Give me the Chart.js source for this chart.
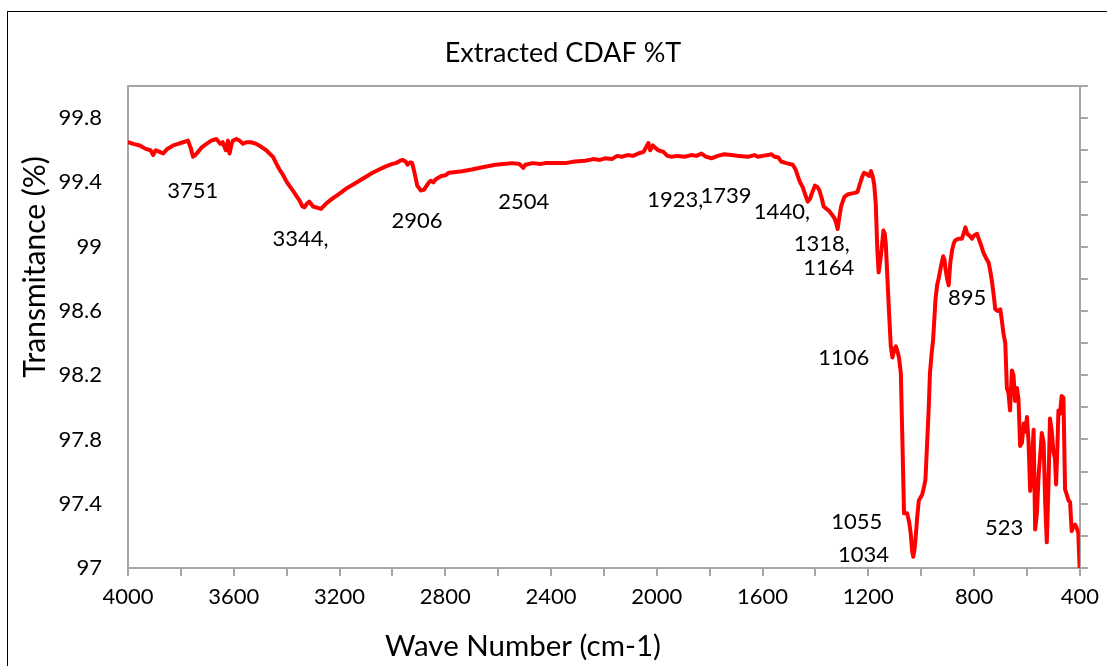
<!DOCTYPE html>
<html>
<head>
<meta charset="utf-8">
<script src="https://cdn.jsdelivr.net/npm/chart.js@4/dist/chart.umd.min.js"></script>
<style>
html, body { margin: 0; padding: 0; background: #fff; }
canvas { display: block; }
</style>
</head>
<body>
<canvas id="graphique" width="1107" height="666"></canvas>
<script>
/********************/
/* Données du graphe */
/********************/
//Nombres d'onde (cm-1)
var nombresOnde = [
    4000, 3980, 3955, 3935, 3915, 3905, 3895, 3880, 3867, 3850, 3829, 3810, 3792, 3773, 3762, 3754, 3745, 3735, 3720, 3703,
    3685, 3666, 3650, 3642, 3630, 3622, 3616, 3608, 3603, 3590, 3578, 3565, 3553, 3535, 3515, 3495, 3477, 3465, 3452, 3440,
    3427, 3415, 3402, 3390, 3377, 3365, 3352, 3340, 3333, 3322, 3314, 3300, 3289, 3270, 3250, 3226, 3200, 3176, 3150, 3125,
    3100, 3075, 3050, 3025, 3000, 2987, 2970, 2962, 2950, 2943, 2932, 2925, 2915, 2906, 2893, 2880, 2874, 2862, 2855, 2845,
    2836, 2815, 2799, 2786, 2760, 2736, 2700, 2673, 2640, 2610, 2580, 2548, 2520, 2505, 2497, 2470, 2440, 2422, 2390, 2346,
    2310, 2271, 2240, 2215, 2196, 2170, 2150, 2133, 2110, 2090, 2070, 2050, 2040, 2032, 2025, 2015, 1995, 1975, 1960, 1944,
    1920, 1894, 1870, 1850, 1831, 1815, 1793, 1770, 1745, 1718, 1690, 1655, 1630, 1618, 1600, 1580, 1567, 1555, 1540, 1530,
    1510, 1486, 1475, 1467, 1458, 1448, 1438, 1429, 1420, 1414, 1402, 1392, 1385, 1376, 1369, 1358, 1347, 1338, 1329, 1322,
    1316, 1310, 1303, 1295, 1290, 1278, 1266, 1252, 1241, 1232, 1222, 1216, 1205, 1197, 1190, 1184, 1178, 1172, 1166, 1161,
    1156, 1150, 1143, 1138, 1134, 1128, 1122, 1115, 1109, 1102, 1096, 1090, 1084, 1077, 1072, 1065, 1053, 1045, 1040, 1034,
    1030, 1025, 1021, 1015, 1009, 1002, 996, 990, 984, 977, 972, 967, 961, 955, 946, 940, 933, 925, 917, 912,
    908, 902, 896, 890, 883, 877, 871, 858, 846, 838, 833, 826, 818, 808, 800, 789, 776, 764, 755, 745,
    739, 733, 726, 720, 710, 701, 695, 689, 682, 676, 670, 664, 657, 651, 645, 638, 632, 626, 619, 612,
    606, 600, 594, 588, 582, 575, 569, 562, 556, 550, 544, 537, 531, 525, 519, 513, 506, 500, 494, 490,
    485, 481, 475, 469, 462, 456, 450, 443, 437, 431, 424, 418, 412, 406, 402, 400
];
//Transmittance (%)
var transmittance = [
    99.65, 99.64, 99.63, 99.61, 99.60, 99.57, 99.60, 99.59, 99.58, 99.61, 99.63, 99.64, 99.65, 99.66, 99.61, 99.56, 99.57, 99.59, 99.62, 99.64,
    99.66, 99.67, 99.64, 99.65, 99.60, 99.66, 99.58, 99.64, 99.66, 99.67, 99.66, 99.64, 99.65, 99.65, 99.64, 99.62, 99.60, 99.58, 99.56, 99.52,
    99.48, 99.45, 99.41, 99.38, 99.35, 99.32, 99.29, 99.25, 99.245, 99.27, 99.28, 99.25, 99.245, 99.235, 99.27, 99.30, 99.33, 99.36, 99.385, 99.41,
    99.435, 99.46, 99.48, 99.50, 99.515, 99.52, 99.535, 99.54, 99.53, 99.51, 99.525, 99.52, 99.45, 99.38, 99.35, 99.355, 99.37, 99.40, 99.41, 99.40,
    99.42, 99.44, 99.445, 99.46, 99.465, 99.47, 99.48, 99.49, 99.50, 99.51, 99.515, 99.52, 99.515, 99.49, 99.51, 99.52, 99.515, 99.52, 99.52, 99.52,
    99.53, 99.535, 99.545, 99.54, 99.55, 99.545, 99.565, 99.56, 99.57, 99.565, 99.58, 99.59, 99.62, 99.645, 99.60, 99.63, 99.60, 99.59, 99.565, 99.56,
    99.565, 99.56, 99.57, 99.565, 99.58, 99.56, 99.55, 99.565, 99.575, 99.57, 99.565, 99.56, 99.57, 99.56, 99.565, 99.57, 99.575, 99.56, 99.555, 99.53,
    99.52, 99.51, 99.48, 99.44, 99.40, 99.37, 99.32, 99.28, 99.30, 99.33, 99.38, 99.37, 99.35, 99.30, 99.25, 99.235, 99.22, 99.20, 99.18, 99.15,
    99.11, 99.18, 99.25, 99.29, 99.31, 99.325, 99.33, 99.335, 99.34, 99.39, 99.44, 99.46, 99.45, 99.44, 99.47, 99.44, 99.39, 99.27, 98.98, 98.84,
    98.90, 98.98, 99.10, 99.08, 99.02, 98.81, 98.60, 98.38, 98.31, 98.36, 98.38, 98.35, 98.31, 98.21, 97.85, 97.34, 97.34, 97.28, 97.22, 97.10,
    97.07, 97.12, 97.19, 97.32, 97.42, 97.44, 97.46, 97.50, 97.55, 97.80, 97.98, 98.21, 98.33, 98.42, 98.67, 98.76, 98.81, 98.88, 98.94, 98.92,
    98.86, 98.80, 98.76, 98.90, 98.98, 99.02, 99.04, 99.05, 99.05, 99.09, 99.12, 99.08, 99.07, 99.05, 99.07, 99.08, 99.02, 98.96, 98.93, 98.90,
    98.85, 98.79, 98.70, 98.61, 98.60, 98.61, 98.54, 98.46, 98.40, 98.12, 98.09, 97.98, 98.23, 98.20, 98.04, 98.12, 98.05, 97.76, 97.78, 97.90,
    97.85, 97.94, 97.78, 97.48, 97.62, 97.86, 97.24, 97.35, 97.58, 97.70, 97.84, 97.78, 97.40, 97.16, 97.50, 97.93, 97.85, 97.72, 97.68, 97.52,
    97.75, 97.98, 97.96, 98.07, 98.06, 97.49, 97.46, 97.42, 97.41, 97.23, 97.26, 97.27, 97.25, 97.22, 97.05, 96.95
];

//Etiquettes des axes
var etiquettesX = [4000, 3600, 3200, 2800, 2400, 2000, 1600, 1200, 800, 400];
var etiquettesY = [97, 97.4, 97.8, 98.2, 98.6, 99, 99.4, 99.8];

//Etiquettes des pics (texte, position en unités des axes)
var picsTexte = ['3751', '3344,', '2906', '2504', '1923,', '1739', '1440,', '1318,', '1164', '895', '1106', '1055', '1034', '523'];
var picsX = [3755, 3348, 2907, 2503, 1930, 1738, 1527, 1376, 1350, 826, 1293, 1244, 1218, 686];
var picsY = [99.35, 99.05, 99.16, 99.28, 99.29, 99.315, 99.215, 99.02, 98.87, 98.68, 98.31, 97.29, 97.08, 97.25];

/**********************/
/* Paramètres visuels */
/**********************/
var police = 'Lato, "Open Sans", sans-serif';
var grisAxe = '#a6a6a6';

//Constitution des données (x,y)
var donneesXY = [];
for (var i = 0; i < nombresOnde.length; i++) {
    donneesXY.push({ x: nombresOnde[i], y: transmittance[i] });
}

//Plugin pour le cadre, les titres et les étiquettes des pics
var decor = {
    id: 'decor',
    beforeDraw: function(chart) {
        var c = chart.ctx;
        c.save();
        c.fillStyle = '#fff';
        c.fillRect(0, 0, chart.width, chart.height);
        c.strokeStyle = '#000';
        c.lineWidth = 1;
        c.strokeRect(7.5, 11.5, 1300, 1000);
        c.restore();
    },
    afterDraw: function(chart) {
        var c = chart.ctx;
        var zone = chart.chartArea;
        var sx = chart.scales.x, sy = chart.scales.y;
        c.save();
        //Bordure haute de la zone de tracé
        c.strokeStyle = grisAxe;
        c.lineWidth = 2;
        c.beginPath();
        c.moveTo(zone.left - 1, zone.top);
        c.lineTo(zone.right, zone.top);
        c.stroke();

        c.fillStyle = '#000';
        c.textAlign = 'center';
        c.textBaseline = 'middle';
        //Titre
        c.font = '27px ' + police;
        c.fillText('Extracted CDAF %T', 563, 53);
        //Titre axe X
        c.font = '29.5px ' + police;
        c.fillText('Wave Number (cm-1)', 523, 646);
        //Titre axe Y
        c.save();
        c.translate(35, 267);
        c.rotate(-Math.PI / 2);
        c.font = '30px ' + police;
        c.fillText('Transmitance (%)', 0, 0);
        c.restore();
        //Etiquettes des pics
        c.font = '22px ' + police;
        for (var k = 0; k < picsTexte.length; k++) {
            c.fillText(picsTexte[k], sx.getPixelForValue(picsX[k]), sy.getPixelForValue(picsY[k]));
        }
        c.restore();
    }
};

var ctx = document.getElementById('graphique').getContext('2d');
var courbeChart = new Chart(ctx, {
    type: 'line',
    data: {
        datasets: [{
            data: donneesXY,
            borderColor: '#ff0000',
            backgroundColor: '#ff0000',
            borderWidth: 4,
            borderJoinStyle: 'round',
            borderCapStyle: 'round',
            pointRadius: 0,
            fill: false,
            tension: 0
        }]
    },
    options: {
        responsive: false,
        animation: false,
        devicePixelRatio: 1,
        layout: { padding: { top: 86, left: 0, right: 0, bottom: 0 } },
        plugins: {
            legend: { display: false },
            title: { display: false },
            tooltip: { enabled: false }
        },
        scales: {
            x: {
                type: 'linear',
                reverse: true,
                min: 400,
                max: 4000,
                position: 'bottom',
                ticks: {
                    stepSize: 200,
                    autoSkip: false,
                    maxRotation: 0,
                    color: '#000',
                    padding: 8,
                    font: { family: police, size: 22 },
                    callback: function(v) { return etiquettesX.indexOf(v) >= 0 ? String(v) : ''; }
                },
                grid: { drawOnChartArea: false, drawTicks: true, tickLength: 8, color: grisAxe, lineWidth: 2 },
                border: { display: true, color: grisAxe, width: 2 },
                afterFit: function(s) { s.height = 98; }
            },
            y: {
                type: 'linear',
                min: 97,
                max: 100,
                position: 'left',
                afterBuildTicks: function(s) {
                    s.ticks = etiquettesY.map(function(v) { return { value: v }; });
                },
                ticks: {
                    color: '#000',
                    padding: 26,
                    font: { family: police, size: 22 },
                    callback: function(v) { return String(Math.round(v * 10) / 10); }
                },
                grid: { drawOnChartArea: false, drawTicks: false },
                border: { display: true, color: grisAxe, width: 2 },
                afterFit: function(s) { s.width = 128; }
            },
            y2: {
                type: 'linear',
                min: 97,
                max: 100,
                position: 'right',
                ticks: { display: false, stepSize: 0.2 },
                grid: { drawOnChartArea: false, drawTicks: true, tickLength: 8, color: grisAxe, lineWidth: 2 },
                border: { display: true, color: grisAxe, width: 2 },
                afterFit: function(s) { s.width = 24; }
            }
        }
    },
    plugins: [decor]
});
</script>
</body>
</html>
